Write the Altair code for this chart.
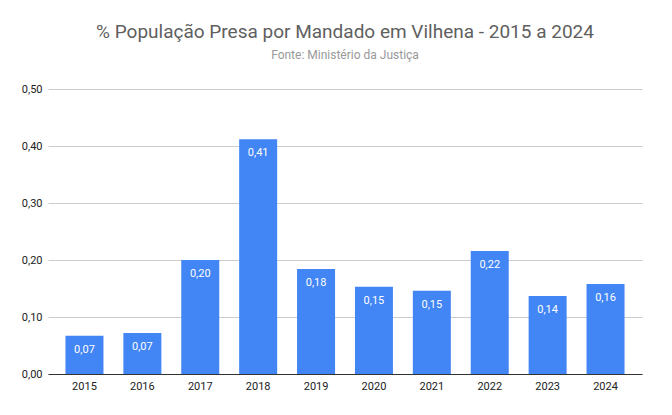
import pandas as pd
import altair as alt

years = ["2015", "2016", "2017", "2018", "2019", "2020", "2021", "2022", "2023", "2024"]
values = [0.067, 0.072, 0.200, 0.412, 0.184, 0.153, 0.146, 0.216, 0.137, 0.158]

df = pd.DataFrame({"ano": years, "valor": values})
df["rotulo"] = [f"{v:.2f}".replace(".", ",") for v in values]

ticks = [round(i * 0.05, 2) for i in range(11)]

base = alt.Chart(df).encode(
    x=alt.X("ano:N", title=None,
            scale=alt.Scale(paddingInner=0.34, paddingOuter=0.3),
            axis=alt.Axis(labelAngle=0, labelColor="#222", labelFontSize=11,
                          domainColor="#333", ticks=False, labelPadding=6)),
)

bars = base.mark_bar(color="#4285F4", width=38).encode(
    y=alt.Y("valor:Q", title=None, scale=alt.Scale(domain=[0, 0.5], nice=False),
            axis=alt.Axis(values=ticks, domain=False, ticks=False, labelColor="#222", labelFontSize=11,
                          labelPadding=6,
                          labelExpr="round(datum.value*20) % 2 == 0 ? replace(format(datum.value, '.2f'), '.', ',') : ''",
                          gridColor={"expr": "round(datum.value*20) % 2 == 0 ? '#cccccc' : '#ebebeb'"})),
)

labels = base.mark_text(color="white", baseline="top", dy=8, fontSize=11).encode(
    y="valor:Q", text="rotulo:N"
)

chart = (bars + labels).properties(
    width=594, height=285,
    padding={"left": 40, "top": 81, "right": 22, "bottom": 30},
    autosize=alt.AutoSizeParams(type="none"),
    title=alt.Title("% População Presa por Mandado em Vilhena - 2015 a 2024",
                    subtitle="Fonte: Ministério da Justiça",
                    fontSize=19, fontWeight="normal", color="#5f5f5f", subtitleColor="#999",
                    subtitleFontSize=12, offset=22, subtitlePadding=8, anchor="middle"),
).configure(font="Roboto").configure_view(stroke=None)

chart.save("out.html", embed_options={"renderer": "svg", "actions": False})
